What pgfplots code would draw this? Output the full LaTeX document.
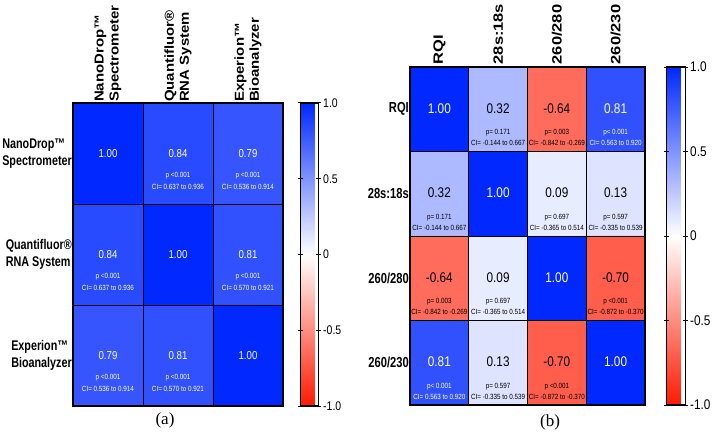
\documentclass[border=0pt]{standalone}
\usepackage{fontspec}
\setmainfont{Liberation Sans}
\newfontfamily\narrow[FakeStretch=0.84]{Liberation Sans}
\newfontfamily\narrowL[FakeStretch=0.77]{Liberation Sans}
\newfontfamily\vlabA[FakeStretch=1.15]{Liberation Sans}
\newfontfamily\vlabB[FakeStretch=1.22]{Liberation Sans}
\newfontfamily\serif{Liberation Serif}
\usepackage{pgfplots}
\usepackage{pgfplotstable}
\pgfplotsset{compat=1.18}
\pgfplotsset{colormap={rwb}{rgb255=(255,25,0) rgb255=(255,255,255) rgb255=(0,40,255)}}

\pgfplotstableread{
x y r
0 0 1.00
1 0 0.84
2 0 0.79
0 1 0.84
1 1 1.00
2 1 0.81
0 2 0.79
1 2 0.81
2 2 1.00
}\tabA
\pgfplotstableread{
x y r
0 0 1.00
1 0 0.32
2 0 -0.64
3 0 0.81
0 1 0.32
1 1 1.00
2 1 0.09
3 1 0.13
0 2 -0.64
1 2 0.09
2 2 1.00
3 2 -0.70
0 3 0.81
1 3 0.13
2 3 -0.70
3 3 1.00
}\tabB

\tikzset{
  valA/.style={font=\narrow\fontsize{11.5}{11.5}\selectfont},
  statA/.style={font=\narrow\fontsize{7.5}{12}\selectfont, align=center, yshift=-27pt},
  valB/.style={font=\narrow\fontsize{14}{14}\selectfont, yshift=1pt},
  statB/.style={font=\narrow\fontsize{7.5}{11}\selectfont, align=center, yshift=-28.5pt},
}
\pgfplotsset{
  heat/.style={
    anchor=south west, scale only axis, enlargelimits=false, y dir=reverse,
    colormap name=rwb, point meta min=-1, point meta max=1,
    major tick length=0pt, minor tick length=0pt,
    xticklabel pos=right,
    minor grid style={black, line width=0.8pt},
    xminorgrids, yminorgrids, axis on top,
    axis line style={black, line width=1.2pt},
    colorbar,
  },
  cbar/.style={
    colorbar style={
      at={(parent axis.north east)}, anchor=north west, xshift=#1,
      scale only axis,
      ytick={-1,-0.5,0,0.5,1}, yticklabels={-1.0,-0.5,0,0.5,1.0},
      ytick pos=both, yticklabel pos=right, tick align=center,
      major tick length=5pt, tick style={black, line width=1pt},
      axis line style={black, line width=1.2pt},
    }
  },
}

\begin{document}
\begin{tikzpicture}
\useasboundingbox (0,0) rectangle (714pt,434pt);

% ---------------- (a)
\begin{axis}[heat, cbar=9pt, at={(73pt,28pt)}, width=210pt, height=303pt,
  xmin=-0.5, xmax=2.5, ymin=-0.5, ymax=2.5,
  xtick={0,1,2}, ytick={0,1,2},
  minor xtick={0.5,1.5}, minor ytick={0.5,1.5},
  xticklabels={{NanoDrop™\\Spectrometer},{Quantifluor®\\RNA System},{Experion™\\Bioanalyzer}},
  yticklabels={{NanoDrop™\\Spectrometer},{Quantifluor®\\RNA System},{Experion™\\Bioanalyzer}},
  xticklabel style={rotate=90, anchor=west, align=left, inner sep=1pt,
    font=\vlabA\bfseries\fontsize{13}{15}\selectfont},
  yticklabel style={anchor=east, align=left, inner sep=1pt,
    font=\narrowL\bfseries\fontsize{14}{16.5}\selectfont},
  colorbar style={width=18pt, height=303pt,
    yticklabel style={font=\narrow\fontsize{12.5}{12.5}\selectfont, inner sep=2pt}},
]
\addplot[matrix plot*, mesh/cols=3, point meta=explicit] table[x=x, y=y, meta=r]{\tabA};
\node[valA, text=white] at (axis cs:0,0) {1.00};
\node[valA, text=white] at (axis cs:1,0) {0.84};
\node[valA, text=white] at (axis cs:2,0) {0.79};
\node[valA, text=white] at (axis cs:0,1) {0.84};
\node[valA, text=white] at (axis cs:1,1) {1.00};
\node[valA, text=white] at (axis cs:2,1) {0.81};
\node[valA, text=white] at (axis cs:0,2) {0.79};
\node[valA, text=white] at (axis cs:1,2) {0.81};
\node[valA, text=white] at (axis cs:2,2) {1.00};
\node[statA, text=white] at (axis cs:1,0) {p <0.001\\CI= 0.637 to 0.936};
\node[statA, text=white] at (axis cs:2,0) {p <0.001\\CI= 0.536 to 0.914};
\node[statA, text=white] at (axis cs:0,1) {p <0.001\\CI= 0.637 to 0.936};
\node[statA, text=white] at (axis cs:2,1) {p <0.001\\CI= 0.570 to 0.921};
\node[statA, text=white] at (axis cs:0,2) {p <0.001\\CI= 0.536 to 0.914};
\node[statA, text=white] at (axis cs:1,2) {p <0.001\\CI= 0.570 to 0.921};
\end{axis}

% ---------------- (b)
\begin{axis}[heat, cbar=13pt, at={(410pt,29pt)}, width=235pt, height=338pt,
  xmin=-0.5, xmax=3.5, ymin=-0.5, ymax=3.5,
  xtick={0,1,2,3}, ytick={0,1,2,3},
  minor xtick={0.5,1.5,2.5}, minor ytick={0.5,1.5,2.5},
  xticklabels={RQI,28s:18s,260/280,260/230},
  yticklabels={RQI,28s:18s,260/280,260/230},
  xticklabel style={rotate=90, anchor=west, inner sep=2.5pt,
    font=\vlabB\bfseries\fontsize{13.5}{14}\selectfont},
  yticklabel style={anchor=east, inner sep=1pt,
    font=\narrowL\bfseries\fontsize{14.5}{14.5}\selectfont},
  colorbar style={width=19pt, height=338pt,
    yticklabel style={font=\narrow\fontsize{14}{14}\selectfont, inner sep=2pt}},
]
\addplot[matrix plot*, mesh/cols=4, point meta=explicit] table[x=x, y=y, meta=r]{\tabB};
\node[valB, text=white] at (axis cs:0,0) {1.00};
\node[valB, text=black] at (axis cs:1,0) {0.32};
\node[valB, text=black] at (axis cs:2,0) {-0.64};
\node[valB, text=white] at (axis cs:3,0) {0.81};
\node[valB, text=black] at (axis cs:0,1) {0.32};
\node[valB, text=white] at (axis cs:1,1) {1.00};
\node[valB, text=black] at (axis cs:2,1) {0.09};
\node[valB, text=black] at (axis cs:3,1) {0.13};
\node[valB, text=black] at (axis cs:0,2) {-0.64};
\node[valB, text=black] at (axis cs:1,2) {0.09};
\node[valB, text=white] at (axis cs:2,2) {1.00};
\node[valB, text=black] at (axis cs:3,2) {-0.70};
\node[valB, text=white] at (axis cs:0,3) {0.81};
\node[valB, text=black] at (axis cs:1,3) {0.13};
\node[valB, text=black] at (axis cs:2,3) {-0.70};
\node[valB, text=white] at (axis cs:3,3) {1.00};
\node[statB, text=black] at (axis cs:1,0) {p= 0.171\\CI= -0.144 to 0.667};
\node[statB, text=black] at (axis cs:2,0) {p= 0.003\\CI= -0.842 to -0.269};
\node[statB, text=white] at (axis cs:3,0) {p< 0.001\\CI= 0.563 to 0.920};
\node[statB, text=black] at (axis cs:0,1) {p= 0.171\\CI= -0.144 to 0.667};
\node[statB, text=black] at (axis cs:2,1) {p= 0.697\\CI= -0.365 to 0.514};
\node[statB, text=black] at (axis cs:3,1) {p= 0.597\\CI= -0.335 to 0.539};
\node[statB, text=black] at (axis cs:0,2) {p= 0.003\\CI= -0.842 to -0.269};
\node[statB, text=black] at (axis cs:1,2) {p= 0.697\\CI= -0.365 to 0.514};
\node[statB, text=black] at (axis cs:3,2) {p <0.001\\CI= -0.872 to -0.370};
\node[statB, text=white] at (axis cs:0,3) {p< 0.001\\CI= 0.563 to 0.920};
\node[statB, text=black] at (axis cs:1,3) {p= 0.597\\CI= -0.335 to 0.539};
\node[statB, text=black] at (axis cs:2,3) {p <0.001\\CI= -0.872 to -0.370};
\end{axis}

\node[font=\serif\fontsize{17}{17}\selectfont] at (165pt,14pt) {(a)};
\node[font=\serif\fontsize{17}{17}\selectfont] at (550pt,12pt) {(b)};
\end{tikzpicture}
\end{document}
